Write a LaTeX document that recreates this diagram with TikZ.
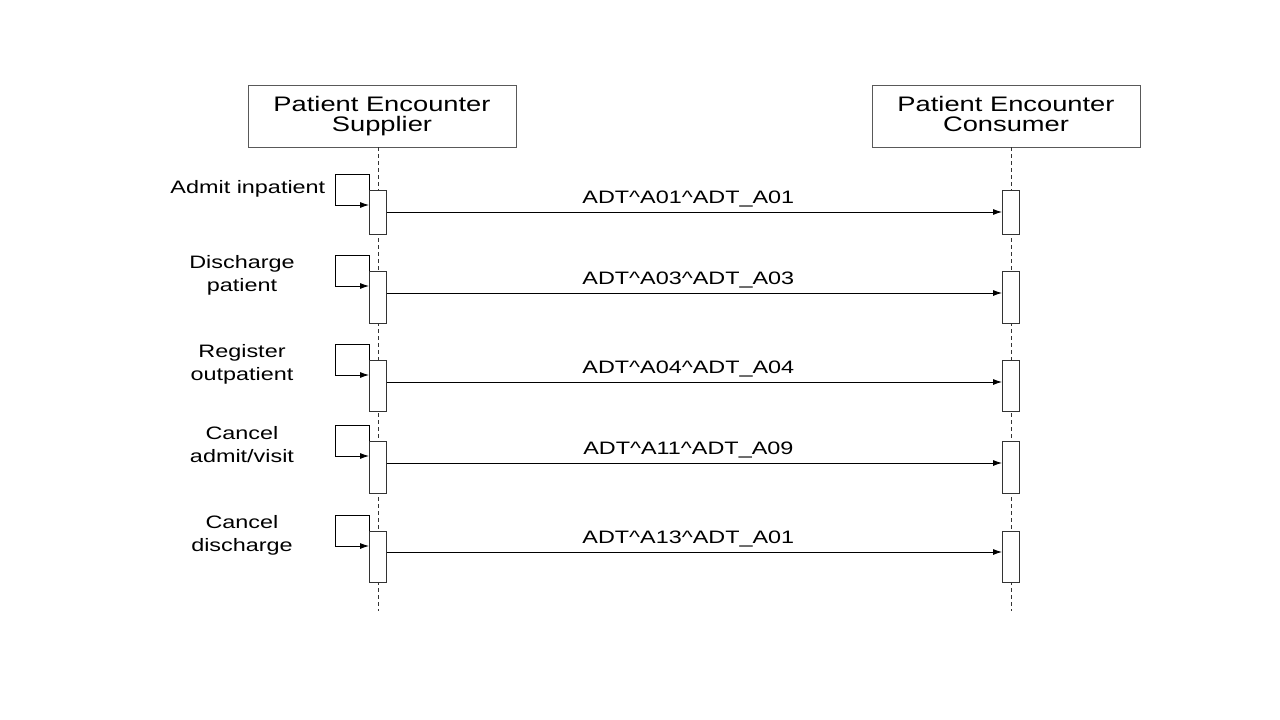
\documentclass[tikz,border=0pt]{standalone}
\usepackage{fontspec}
\setmainfont[FakeStretch=1.3]{Liberation Sans}
\usetikzlibrary{arrows.meta,calc,positioning}
\tikzset{>={Latex[length=9pt,width=6pt]},
  actor/.style={draw=black!65,inner sep=0pt,minimum width=268pt,minimum height=62pt,align=center,font=\fontsize{21}{19.5}\selectfont},
  act/.style={draw=black!80,fill=white,inner sep=0pt,minimum width=17pt,anchor=north},
  life/.style={draw=black!80,dash pattern=on 4pt off 3pt},
  msg/.style={anchor=base,yshift=9pt,pos=.49,font=\fontsize{18}{23}\selectfont},
  note/.style={align=center,font=\fontsize{18}{23}\selectfont}}

\begin{document}
\begin{tikzpicture}[x=1pt,y=-1pt,line width=0.9pt]
              \useasboundingbox (0,0) rectangle (1280,720);
              \node[actor] (sup) at (382,116) {Patient Encounter\\Supplier};
              \node[actor] (con) at (1006,116) {Patient Encounter\\Consumer\vphantom{p}};

              \coordinate (supend) at (378,611);
              \coordinate (conend) at (1011,611);
              \draw[life] (supend |- sup.south) -- (supend);
              \draw[life] (conend |- con.south) -- (conend);

              \node[act,minimum height=44pt] (s1) at (378,190) {};
              \node[act,minimum height=44pt] (c1) at (1011,190) {};
              \node[act,minimum height=52pt] (s2) at (378,271) {};
              \node[act,minimum height=52pt] (c2) at (1011,271) {};
              \node[act,minimum height=51pt] (s3) at (378,360) {};
              \node[act,minimum height=51pt] (c3) at (1011,360) {};
              \node[act,minimum height=52pt] (s4) at (378,441) {};
              \node[act,minimum height=52pt] (c4) at (1011,441) {};
              \node[act,minimum height=51pt] (s5) at (378,531) {};
              \node[act,minimum height=51pt] (c5) at (1011,531) {};

              \node[note,anchor=base east] (l1) at ($(s1.north west)+(-40,3)$) {Admit inpatient};
              \node[note] (l2) at ($(s2.north)+(-136,4)$) {Discharge\\patient};
              \node[note] (l3) at ($(s3.north)+(-136,4)$) {Register\\outpatient};
              \node[note] (l4) at ($(s4.north)+(-136,4)$) {Cancel\\admit/visit};
              \node[note] (l5) at ($(s5.north)+(-136,4)$) {Cancel\\discharge};

              \draw[->] (s1.north west) -- ++(0,-16) -- ++(-34,0) -- ++(0,31) -- ($(s1.north west)+(0,15)$);
              \draw[->] (s2.north west) -- ++(0,-16) -- ++(-34,0) -- ++(0,31) -- ($(s2.north west)+(0,15)$);
              \draw[->] (s3.north west) -- ++(0,-16) -- ++(-34,0) -- ++(0,31) -- ($(s3.north west)+(0,15)$);
              \draw[->] (s4.north west) -- ++(0,-16) -- ++(-34,0) -- ++(0,31) -- ($(s4.north west)+(0,15)$);
              \draw[->] (s5.north west) -- ++(0,-16) -- ++(-34,0) -- ++(0,31) -- ($(s5.north west)+(0,15)$);

              \draw[->] ($(s1.north east)+(0,22)$) -- node[msg] {ADT\textasciicircum A01\textasciicircum ADT\_A01} ($(c1.north west)+(0,22)$);
              \draw[->] ($(s2.north east)+(0,22)$) -- node[msg] {ADT\textasciicircum A03\textasciicircum ADT\_A03} ($(c2.north west)+(0,22)$);
              \draw[->] ($(s3.north east)+(0,22)$) -- node[msg] {ADT\textasciicircum A04\textasciicircum ADT\_A04} ($(c3.north west)+(0,22)$);
              \draw[->] ($(s4.north east)+(0,22)$) -- node[msg] {ADT\textasciicircum A11\textasciicircum ADT\_A09} ($(c4.north west)+(0,22)$);
              \draw[->] ($(s5.north east)+(0,21)$) -- node[msg] {ADT\textasciicircum A13\textasciicircum ADT\_A01} ($(c5.north west)+(0,21)$);
            \end{tikzpicture}
\end{document}
